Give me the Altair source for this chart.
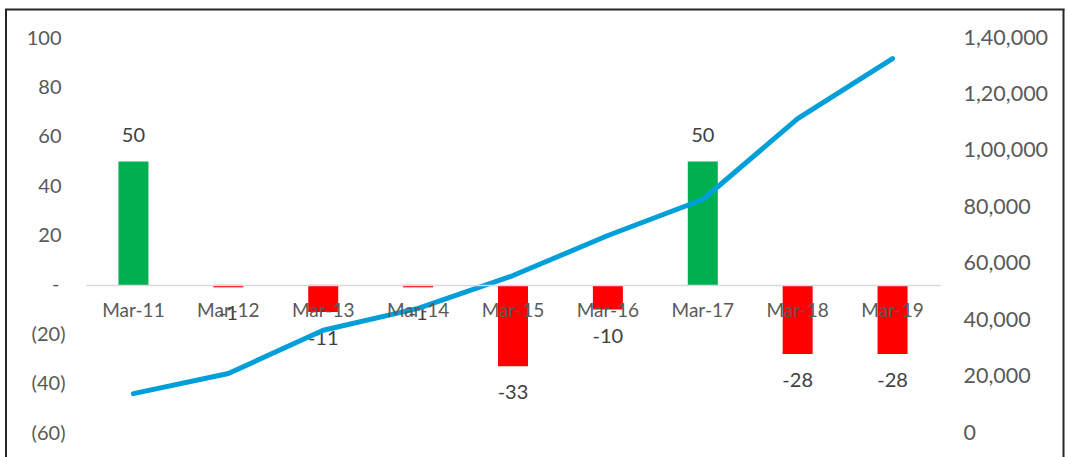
import altair as alt
import pandas as pd

months = ["Mar-11", "Mar-12", "Mar-13", "Mar-14", "Mar-15", "Mar-16", "Mar-17", "Mar-18", "Mar-19"]
change = [50, -1, -11, -1, -33, -10, 50, -28, -28]
total = [13950, 21100, 36400, 44150, 55800, 70000, 82750, 111400, 132700]
neg_ticks = [-60, -40, -20]
pos_ticks = [20, 40, 60, 80, 100]
zero_tick = [0]
right_ticks = [0, 20000, 40000, 60000, 80000, 100000, 120000, 140000]

df = pd.DataFrame({"month": months, "change": change, "total": total})
frame_df = pd.DataFrame({"k": [0]})

FONT = "Lato"
AXIS_GRAY = "#595959"
LABEL_DARK = "#404040"

W, H = 854, 395

x_enc = alt.X(
    "month:N",
    sort=months,
    scale=alt.Scale(paddingInner=0, paddingOuter=0),
    axis=alt.Axis(
        title=None, orient="bottom", offset=-148.1, ticks=False,
        domain=True, domainColor="#D9D9D9", domainWidth=1.5,
        labelFont=FONT, labelFontSize=19, labelColor=AXIS_GRAY,
        labelPadding=17, labelAngle=0, zindex=1,
    ),
)
y_scale = alt.Scale(domain=[-60, 100], nice=False, zero=False)


def left_axis(vals, pad, expr):
    return alt.Axis(
        title=None, orient="left", values=vals, grid=False, ticks=False,
        domain=False, labelFont=FONT, labelFontSize=20, labelColor=AXIS_GRAY,
        labelPadding=pad, labelAlign="right", labelExpr=expr,
    )


bars = alt.Chart(df).mark_bar(size=30).encode(
    x=x_enc,
    y=alt.Y("change:Q", scale=y_scale,
            axis=left_axis(neg_ticks, 21, "'(' + abs(datum.value) + ')'")),
    color=alt.condition(alt.datum.change > 0, alt.value("#00B050"), alt.value("#FF0000")),
)

pos_text = alt.Chart(df).transform_filter("datum.change > 0").transform_calculate(
    lbl="toString(datum.change)"
).mark_text(
    dy=-25, font=FONT, fontSize=20, color=LABEL_DARK, baseline="middle"
).encode(
    x=x_enc,
    y=alt.Y("change:Q", scale=y_scale, axis=left_axis(pos_ticks, 25, "datum.label")),
    text="lbl:N",
)

neg_text = alt.Chart(df).transform_filter("datum.change < 0").transform_calculate(
    lbl="toString(datum.change)"
).mark_text(
    dy=27, font=FONT, fontSize=20, color=LABEL_DARK, baseline="middle"
).encode(
    x=x_enc,
    y=alt.Y("change:Q", scale=y_scale, axis=left_axis(zero_tick, 27, "'-'")),
    text="lbl:N",
)

line = alt.Chart(df).mark_line(
    color="#009FDA", strokeWidth=5, strokeCap="round", strokeJoin="round"
).encode(
    x=x_enc,
    y=alt.Y(
        "total:Q", scale=alt.Scale(domain=[0, 140000], nice=False),
        axis=alt.Axis(
            title=None, orient="right", values=right_ticks, grid=False, ticks=False,
            domain=False, labelFont=FONT, labelFontSize=21.5, labelColor=AXIS_GRAY,
            labelPadding=23, labelAlign="left",
            labelExpr="datum.value >= 100000 ? floor(datum.value/100000) + ',' + format(floor((datum.value % 100000)/1000), '02d') + ',000' : format(datum.value, ',')",
        ),
    ),
)

frame_left = alt.Chart(frame_df).mark_rule(color="#262626", strokeWidth=2).encode(
    x=alt.value(-80), y=alt.value(-28.5), y2=alt.value(419)
)
frame_right = alt.Chart(frame_df).mark_rule(color="#262626", strokeWidth=2).encode(
    x=alt.value(977.5), y=alt.value(-28.5), y2=alt.value(419)
)
frame_top = alt.Chart(frame_df).mark_rule(color="#262626", strokeWidth=2).encode(
    x=alt.value(-81), x2=alt.value(978.5), y=alt.value(-28.5)
)

chart = alt.layer(
    bars, pos_text, neg_text, line, frame_left, frame_right, frame_top
).resolve_scale(y="independent").properties(
    width=W, height=H,
    autosize=alt.AutoSizeParams(type="none"),
    padding={"left": 86, "top": 38, "right": 128, "bottom": 24},
    background="white",
).configure_view(stroke=None)

chart.save("out.html", embed_options={"renderer": "svg", "actions": False})
